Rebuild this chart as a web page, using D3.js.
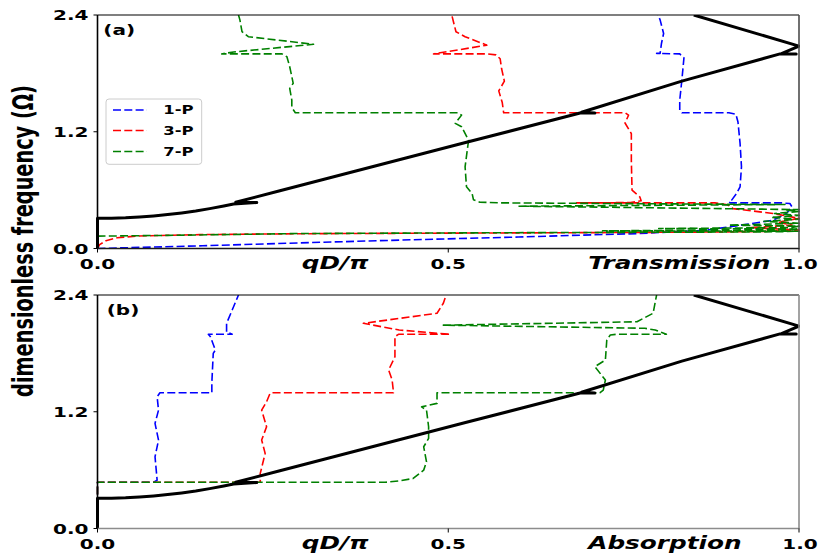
<!DOCTYPE html>
<html>
<head>
<meta charset="utf-8">
<script src="https://cdn.jsdelivr.net/npm/d3@7"></script>
<style>
  body { margin: 0; background: #fff; }
  svg { display: block; }
</style>
</head>
<body>
<svg id="chart" width="820" height="560"></svg>
<script>
// ---- data -------------------------------------------------------------
// Band structure: [qD/pi, Omega], traced in order of increasing frequency
const bandCurve = [
  [0, 0], [0, 0.31], [0.02, 0.3116], [0.04, 0.316], [0.06, 0.324], [0.08, 0.335],
  [0.10, 0.349], [0.12, 0.366], [0.14, 0.386], [0.16, 0.41], [0.18, 0.437],
  [0.194, 0.458], [0.227, 0.472], [0.197, 0.475], [0.26, 0.593], [0.526, 1.092],
  [0.688, 1.392], [0.709, 1.392], [0.69, 1.40], [0.833, 1.72], [0.973, 2.0],
  [0.996, 2.0], [0.975, 2.003], [1.0, 2.08], [0.85, 2.4]
];

const seriesNames = ["1-P", "3-P", "7-P"];
const seriesColors = ["#0000ff", "#ff0000", "#008000"];

// Transmission: [T, Omega]
const trans1P = [
  [0, 0], [0.15, 0.028], [0.289, 0.058], [0.45, 0.09], [0.6, 0.118], [0.688, 0.137],
  [0.773, 0.154], [0.868, 0.188], [0.93, 0.254], [0.963, 0.291], [0.982, 0.36],
  [0.99, 0.428], [0.987, 0.462], [0.975, 0.469], [0.902, 0.469], [0.9, 0.48],
  [0.904, 0.497], [0.911, 0.566], [0.916, 0.634], [0.918, 0.84], [0.916, 1.08],
  [0.913, 1.3], [0.91, 1.38], [0.9, 1.395], [0.833, 1.395], [0.83, 1.42],
  [0.83, 1.526], [0.833, 1.73], [0.836, 1.96], [0.83, 2.0], [0.797, 2.006],
  [0.802, 2.006], [0.804, 2.11], [0.807, 2.21], [0.802, 2.35], [0.799, 2.4]
];
const trans3P = [
  [0, 0], [0.003, 0.04], [0.012, 0.08], [0.028, 0.11], [0.055, 0.128], [0.146, 0.143],
  [0.289, 0.152], [0.5, 0.158], [0.7, 0.163], [0.85, 0.168], [0.95, 0.175], [1.0, 0.19],
  [0.93, 0.215], [0.99, 0.24], [0.97, 0.27], [1.0, 0.31], [0.963, 0.36], [0.906, 0.41],
  [0.898, 0.45], [0.88, 0.469], [0.683, 0.469], [0.76, 0.472], [0.775, 0.49],
  [0.773, 0.531], [0.762, 0.6], [0.761, 0.9], [0.761, 1.18], [0.752, 1.29],
  [0.757, 1.37], [0.752, 1.395], [0.579, 1.395], [0.577, 1.5], [0.572, 1.62],
  [0.58, 1.72], [0.576, 1.85], [0.574, 1.95], [0.568, 1.99], [0.555, 2.0],
  [0.479, 2.0], [0.555, 2.09], [0.524, 2.177], [0.511, 2.228], [0.505, 2.4]
];
const trans7P = [
  [0, 0.127], [0.1, 0.135], [0.289, 0.154], [0.5, 0.16], [0.7, 0.165], [0.85, 0.168],
  [0.97, 0.172], [1.0, 0.178], [0.72, 0.182], [0.98, 0.19], [1.0, 0.2], [0.8, 0.205],
  [0.99, 0.215], [1.0, 0.23], [0.9, 0.24], [1.0, 0.26], [0.95, 0.28], [1.0, 0.3],
  [0.96, 0.32], [1.0, 0.34], [0.965, 0.36], [1.0, 0.38], [0.98, 0.395], [1.0, 0.40],
  [0.60, 0.435], [0.98, 0.452], [0.574, 0.469], [0.545, 0.476], [0.536, 0.5],
  [0.534, 0.566], [0.526, 0.634], [0.524, 0.84], [0.529, 1.114], [0.519, 1.251],
  [0.51, 1.286], [0.519, 1.371], [0.514, 1.395], [0.282, 1.395], [0.277, 1.45],
  [0.277, 1.526], [0.274, 1.646], [0.279, 1.698], [0.274, 1.868], [0.27, 1.971],
  [0.263, 2.0], [0.177, 2.0], [0.194, 2.02], [0.308, 2.099], [0.215, 2.177],
  [0.206, 2.228], [0.203, 2.35], [0.201, 2.4]
];

// Absorption: [A, Omega]
const abs1P = [
  [0, 0], [0, 0.475], [0.08, 0.475], [0.085, 0.497], [0.082, 0.737], [0.087, 0.909],
  [0.082, 1.08], [0.087, 1.217], [0.085, 1.354], [0.089, 1.395], [0.163, 1.395],
  [0.163, 1.5], [0.165, 1.8], [0.168, 1.834], [0.161, 1.971], [0.158, 1.996],
  [0.192, 1.996], [0.184, 2.02], [0.184, 2.109], [0.192, 2.246], [0.201, 2.4]
];
const abs3P = [
  [0, 0], [0, 0.475], [0.232, 0.475], [0.232, 0.566], [0.239, 0.772], [0.234, 0.909],
  [0.241, 1.046], [0.234, 1.217], [0.241, 1.303], [0.246, 1.389], [0.25, 1.395],
  [0.422, 1.395], [0.42, 1.526], [0.415, 1.629], [0.424, 1.766], [0.424, 1.971],
  [0.429, 1.996], [0.503, 1.996], [0.43, 2.04], [0.379, 2.109], [0.484, 2.212],
  [0.493, 2.315], [0.497, 2.4]
];
const abs7P = [
  [0, 0], [0, 0.475], [0.41, 0.475], [0.431, 0.49], [0.45, 0.514], [0.465, 0.6],
  [0.469, 0.685], [0.465, 0.84], [0.472, 0.926], [0.472, 1.046], [0.469, 1.217],
  [0.462, 1.25], [0.484, 1.286], [0.484, 1.395], [0.716, 1.395], [0.721, 1.423],
  [0.724, 1.526], [0.709, 1.663], [0.724, 1.731], [0.726, 1.937], [0.731, 1.989],
  [0.74, 1.996], [0.811, 1.996], [0.795, 2.04], [0.78, 2.058], [0.493, 2.09],
  [0.769, 2.125], [0.792, 2.212], [0.797, 2.4]
];

const xTicks = [0, 0.5, 1.0];
const yTicks = [0, 1.2, 2.4];

// ---- layout -----------------------------------------------------------
const SX = 1.43;            // lettering is drawn horizontally widened
const FONT = "'DejaVu Sans', sans-serif";
const svg = d3.select("#chart");
const x = d3.scaleLinear().domain([0, 1]).range([97.5, 799]);

const panels = [
  { id: "a", tag: "(a)", tagX: 103.3, tagY: 35.3, top: 15, bottom: 248.5,
    curves: [trans1P, trans3P, trans7P], xlabel: "Transmission",
    bottomColor: "#1a1a1a", rightColor: "#4d4d4d", legend: true },
  { id: "b", tag: "(b)", tagX: 106.7, tagY: 314.8, top: 295, bottom: 528.5,
    curves: [abs1P, abs3P, abs7P], xlabel: "Absorption",
    bottomColor: "#8c8c8c", rightColor: "#8c8c8c", legend: false }
];

function label(g, px, py, str, size, anchor, italic) {
  return g.append("text")
    .attr("transform", `translate(${px},${py}) scale(${SX},1)`)
    .attr("text-anchor", anchor)
    .attr("font-family", FONT)
    .attr("font-weight", "bold")
    .attr("font-style", italic ? "italic" : "normal")
    .attr("font-size", size)
    .attr("fill", "#000")
    .text(str);
}

const defs = svg.append("defs");

panels.forEach(p => {
  const y = d3.scaleLinear().domain([0, 2.4]).range([p.bottom, p.top]);
  const g = svg.append("g");
  const x0 = x(0), x1 = x(1);

  defs.append("clipPath").attr("id", "clip-" + p.id)
    .append("rect")
    .attr("x", x0 - 3).attr("y", p.top)
    .attr("width", x1 - x0 + 4).attr("height", p.bottom - p.top + 1);

  const line = d3.line().x(d => x(d[0])).y(d => y(d[1]));
  const plot = g.append("g").attr("clip-path", `url(#clip-${p.id})`);

  p.curves.forEach((c, i) => {
    plot.append("path")
      .attr("d", line(c))
      .attr("fill", "none")
      .attr("stroke", seriesColors[i])
      .attr("stroke-width", 1.6)
      .attr("stroke-dasharray", "8,3.3")
      .attr("stroke-linejoin", "round");
  });

  plot.append("path")
    .attr("d", line(bandCurve))
    .attr("fill", "none")
    .attr("stroke", "#000")
    .attr("stroke-width", 3)
    .attr("stroke-linejoin", "round");

  // frame
  g.append("line").attr("x1", x0).attr("x2", x1).attr("y1", p.top).attr("y2", p.top)
    .attr("stroke", "#000").attr("stroke-width", 1.2);
  g.append("line").attr("x1", x0).attr("x2", x0).attr("y1", p.top).attr("y2", p.bottom)
    .attr("stroke", "#000").attr("stroke-width", 1.6);
  g.append("line").attr("x1", x0).attr("x2", x1 + 0.6).attr("y1", p.bottom).attr("y2", p.bottom)
    .attr("stroke", p.bottomColor).attr("stroke-width", 1.3);
  g.append("line").attr("x1", x1).attr("x2", x1).attr("y1", p.top).attr("y2", p.bottom)
    .attr("stroke", p.rightColor).attr("stroke-width", 1.6);

  // ticks
  yTicks.forEach(v => {
    g.append("line").attr("x1", x0 - 4).attr("x2", x0).attr("y1", y(v)).attr("y2", y(v))
      .attr("stroke", "#000").attr("stroke-width", 1);
    label(g, 88.5, y(v) + 5, d3.format(".1f")(v), 14, "end", false);
  });
  xTicks.forEach(v => {
    g.append("line").attr("x1", x(v)).attr("x2", x(v)).attr("y1", p.bottom).attr("y2", p.bottom + 4)
      .attr("stroke", "#000").attr("stroke-width", 1);
    label(g, v === 1 ? x(v) + 1 : x(v), p.bottom + 20.8, d3.format(".1f")(v), 14, "middle", false);
  });

  label(g, 301.7, p.bottom + 20.5, "qD/\u03c0", 17.3, "start", true);
  label(g, 588.3, p.bottom + 20.5, p.xlabel, 17.3, "start", true);
  label(g, p.tagX, p.tagY, p.tag, 14, "start", false);

  if (p.legend) {
    const lg = g.append("g");
    lg.append("rect").attr("x", 106).attr("y", 99).attr("width", 95.7).attr("height", 65.3)
      .attr("rx", 3).attr("fill", "#fff").attr("fill-opacity", 0.85)
      .attr("stroke", "#cccccc").attr("stroke-width", 1);
    const rows = [110, 130.5, 151.5];
    seriesNames.forEach((name, i) => {
      lg.append("line").attr("x1", 113).attr("x2", 147).attr("y1", rows[i]).attr("y2", rows[i])
        .attr("stroke", seriesColors[i]).attr("stroke-width", 1.6).attr("stroke-dasharray", "8,3.3");
      label(lg, 163.3, rows[i] + 4.3, name, 11.5, "start", false);
    });
  }
});

// shared vertical axis title
svg.append("text")
  .attr("transform", `translate(33,241) scale(${SX},1) rotate(-90)`)
  .attr("text-anchor", "middle")
  .attr("font-family", FONT)
  .attr("font-weight", "bold")
  .attr("font-size", 19.3)
  .text("dimensionless frequency (\u03a9)");
</script>
</body>
</html>
